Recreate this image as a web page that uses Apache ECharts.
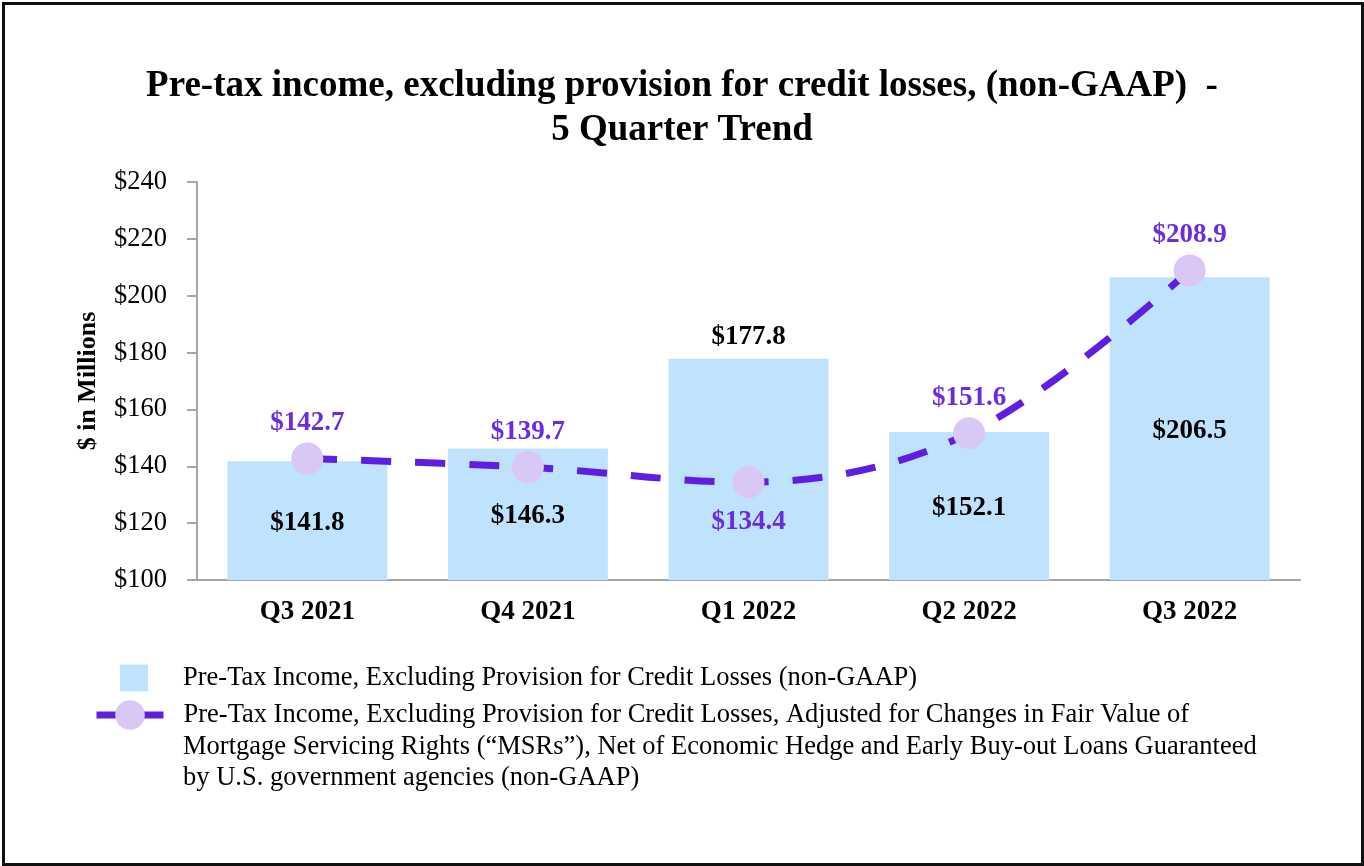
<!DOCTYPE html>
<html>
<head>
<meta charset="utf-8">
<script src="https://cdn.jsdelivr.net/npm/echarts@6/dist/echarts.min.js"></script>
<style>
html,body{margin:0;padding:0;background:#fff;}
#frame{position:absolute;left:2px;top:2px;width:1356px;height:858px;border:3px solid #111;box-sizing:content-box;}
#chart{position:absolute;left:0;top:0;width:1364px;height:866px;}
</style>
</head>
<body>
<div id="chart"></div>
<div id="frame" style="pointer-events:none"></div>
<script>
const categories = ['Q3 2021', 'Q4 2021', 'Q1 2022', 'Q2 2022', 'Q3 2022'];
const pretaxValues = [141.8, 146.3, 177.8, 152.1, 206.5];
const adjustedValues = [142.7, 139.7, 134.4, 151.6, 208.9];
const yTicks = { min: 100, max: 240, interval: 20 };
const barName = 'Pre-Tax Income, Excluding Provision for Credit Losses (non-GAAP)';
const lineNameLines = [
  'Pre-Tax Income, Excluding Provision for Credit Losses, Adjusted for Changes in Fair Value of',
  'Mortgage Servicing Rights (\u201cMSRs\u201d), Net of Economic Hedge and Early Buy-out Loans Guaranteed',
  'by U.S. government agencies (non-GAAP)'
];
const lineName = lineNameLines.join('\n');
const titleText = 'Pre-tax income, excluding provision for credit losses, (non-GAAP)  -\n5 Quarter Trend';

const FONT = '"Liberation Serif", "Times New Roman", serif';
const fmt = v => '$' + v.toFixed(1);

// bar label sits above the bar when the line label would collide inside it
const barData = pretaxValues.map((v, i) => ({
  value: v,
  label: i === 2 ? { position: 'top', distance: 8, offset: [0, 0] } : undefined
}));
const lineData = adjustedValues.map((v, i) => ({
  value: v,
  label: i === 2 ? { position: 'bottom', distance: 10 } : undefined
}));

const chart = echarts.init(document.getElementById('chart'), null, { renderer: 'canvas' });
chart.setOption({
  backgroundColor: '#fff',
  animation: false,
  textStyle: { fontFamily: FONT },
  title: {
    text: titleText,
    left: 'center',
    top: 59,
    textStyle: { fontFamily: FONT, fontSize: 37, fontWeight: 'bold', color: '#000', lineHeight: 44 }
  },
  grid: { left: 197, right: 64, top: 182, bottom: 286, containLabel: false },
  legend: [
    {
      data: [barName],
      left: 120,
      top: 662,
      padding: 0,
      icon: 'rect',
      itemWidth: 28,
      itemHeight: 27,
      selectedMode: false,
      textStyle: { fontFamily: FONT, fontSize: 26.5, color: '#000', lineHeight: 32, padding: [0, 0, 0, 30] }
    },
    {
      data: [lineName],
      left: 93,
      top: 699,
      padding: 0,
      itemWidth: 67,
      itemHeight: 37,
      selectedMode: false,
      formatter: name => name.split('\n')[0],
      lineStyle: { type: 'solid', width: 7 },
      textStyle: { fontFamily: FONT, fontSize: 26.5, color: '#000', lineHeight: 32, padding: [0, 0, 0, 15] }
    }
  ],
  graphic: [
    {
      type: 'text',
      left: 183,
      top: 731,
      style: {
        text: lineNameLines.slice(1).join('\n'),
        font: '26.5px ' + FONT,
        lineHeight: 31.5,
        fill: '#000'
      }
    }
  ],
  xAxis: {
    type: 'category',
    data: categories,
    axisLine: { lineStyle: { color: '#a6a6a6', width: 2 } },
    axisTick: { alignWithLabel: true, length: 10, lineStyle: { color: '#a6a6a6', width: 2 } },
    axisLabel: { fontFamily: FONT, fontSize: 27, fontWeight: 'bold', color: '#000', margin: 19 }
  },
  yAxis: {
    type: 'value',
    min: yTicks.min,
    max: yTicks.max,
    interval: yTicks.interval,
    name: '$ in Millions',
    nameLocation: 'middle',
    nameGap: 96,
    nameRotate: 90,
    nameTextStyle: { fontFamily: FONT, fontSize: 26, fontWeight: 'bold', color: '#000' },
    splitLine: { show: false },
    axisLine: { show: true, lineStyle: { color: '#a6a6a6', width: 2 } },
    axisTick: { show: true, length: 10, lineStyle: { color: '#a6a6a6', width: 2 } },
    axisLabel: { fontFamily: FONT, fontSize: 26.5, color: '#000', margin: 30, formatter: v => '$' + v }
  },
  series: [
    {
      name: barName,
      type: 'bar',
      data: barData,
      barWidth: '72.5%',
      itemStyle: { color: '#bfe3fc' },
      label: {
        show: true,
        position: 'inside',
        offset: [0, 2],
        formatter: p => fmt(p.value),
        fontFamily: FONT, fontSize: 27, fontWeight: 'bold', color: '#000'
      },
      z: 1
    },
    {
      name: lineName,
      type: 'line',
      data: lineData,
      smooth: 0.35,
      symbol: 'circle',
      symbolSize: 32,
      itemStyle: { color: '#d9c8f5' },
      lineStyle: { color: '#5f1fe3', width: 7, type: [30, 24] },
      label: {
        show: true,
        position: 'top',
        distance: 6,
        formatter: p => fmt(p.value),
        fontFamily: FONT, fontSize: 27, fontWeight: 'bold', color: '#6a2be2'
      },
      z: 3
    }
  ]
});
</script>
</body>
</html>
